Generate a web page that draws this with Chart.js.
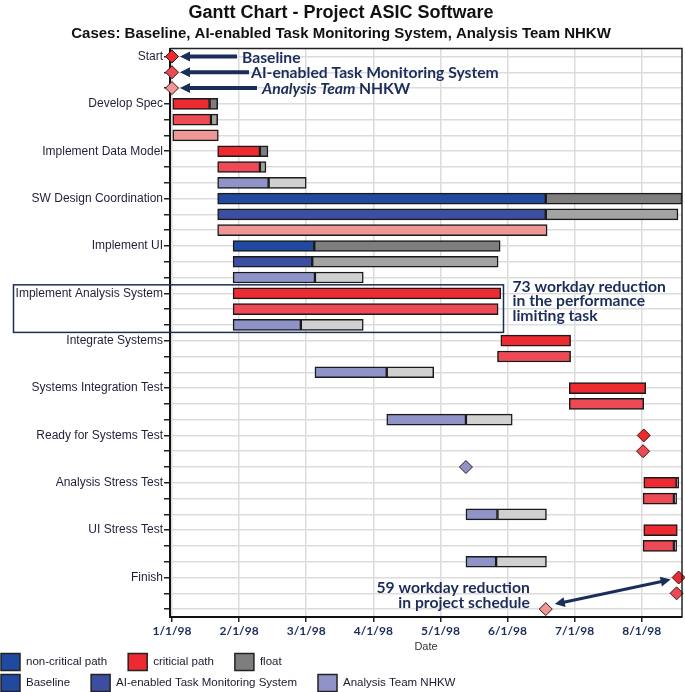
<!DOCTYPE html>
<html>
<head>
<meta charset="utf-8">
<title>Gantt Chart - Project ASIC Software</title>
<script src="https://cdn.jsdelivr.net/npm/chart.js@4.4.1/dist/chart.umd.min.js"></script>
<style>
  html, body { margin: 0; padding: 0; background: #fff; }
  #wrap { width: 685px; height: 692px; }
</style>
</head>
<body>
<div id="wrap"><canvas id="gantt" width="685" height="692"></canvas></div>
<script>
// tasks top to bottom, one row per case under each task
const tasks = ['Start', 'Develop Spec', 'Implement Data Model', 'SW Design Coordination',
    'Implement UI', 'Implement Analysis System', 'Integrate Systems', 'Systems Integration Test',
    'Ready for Systems Test', 'Analysis Stress Test', 'UI Stress Test', 'Finish'];
const cases = ['Baseline', 'AI-enabled Task Monitoring System', 'Analysis Team NHKW'];

// x = months after 1/1/98
const monthTicks = [0, 1, 2, 3, 4, 5, 6, 7];
const monthLabels = ['1/1/98', '2/1/98', '3/1/98', '4/1/98', '5/1/98', '6/1/98', '7/1/98', '8/1/98'];

// start == end -> milestone, floatEnd == end -> no float
const baselineStart    = [0, 0,    0.68, 0.68, 0.91, 0.91, 4.90, 5.92, 7.03, 7.03, 7.03, 7.55];
const baselineEnd      = [0, 0.56, 1.31, 5.57, 2.12, 4.90, 5.94, 7.06, 7.03, 7.52, 7.53, 7.55];
const baselineFloatEnd = [0, 0.68, 1.43, 7.60, 4.89, 4.90, 5.94, 7.06, 7.03, 7.55, 7.53, 7.55];
const baselineCritical = [1, 1, 1, 0, 0, 1, 1, 1, 1, 1, 1, 1];

const aiStart    = [0, 0,    0.68, 0.68, 0.91, 0.91, 4.85, 5.92, 7.02, 7.02, 7.02, 7.52];
const aiEnd      = [0, 0.58, 1.31, 5.57, 2.09, 4.86, 5.94, 7.03, 7.02, 7.48, 7.48, 7.52];
const aiFloatEnd = [0, 0.68, 1.40, 7.54, 4.86, 4.86, 5.94, 7.03, 7.02, 7.52, 7.52, 7.52];
const aiCritical = [1, 1, 1, 0, 0, 1, 1, 1, 1, 1, 1, 1];

const nhkwStart    = [0, 0,    0.68, 0.68, 0.91, 0.91, 2.13, 3.20, 4.38, 4.38, 4.38, 5.57];
const nhkwEnd      = [0, 0.69, 1.44, 5.59, 2.13, 1.92, 3.20, 4.38, 4.38, 4.85, 4.83, 5.57];
const nhkwFloatEnd = [0, 0.69, 2.00, 5.59, 2.85, 2.85, 3.90, 5.07, 4.38, 5.58, 5.58, 5.57];
const nhkwCritical = [1, 1, 0, 1, 0, 0, 0, 0, 0, 0, 0, 1];

const palette = {
    critical:    ['#EC2A2F', '#EE4A56', '#EF9797'],
    nonCritical: ['#2149A0', '#3C4E9F', '#8F93C8'],
    float:       ['#7E7E7E', '#A2A4A4', '#CFD0CF']
};
const NAVY = '#1B2D5B';
const NOTE_FONT = 'bold 15.7px Lato';

const caseData = [
    [baselineStart, baselineEnd, baselineFloatEnd, baselineCritical],
    [aiStart, aiEnd, aiFloatEnd, aiCritical],
    [nhkwStart, nhkwEnd, nhkwFloatEnd, nhkwCritical]
];

// one entry per row; null where a row has nothing of that kind
let rowLabels = [], mainBars = [], floatBars = [], miles = [], rowColors = [], floatColors = [];
tasks.forEach((task, ti) => {
    cases.forEach((c, ci) => {
        const [s, e, f, crit] = caseData[ci];
        rowLabels.push(ci == 0 ? task : '');
        rowColors.push(crit[ti] ? palette.critical[ci] : palette.nonCritical[ci]);
        floatColors.push(palette.float[ci]);
        const milestone = s[ti] == e[ti];
        mainBars.push(milestone ? null : [s[ti], e[ti]]);
        miles.push(milestone ? s[ti] : null);
        floatBars.push(f[ti] > e[ti] ? [e[ti], f[ti]] : null);
    });
});

function arrowHead(ctx, x, y, ang, len, half) {
    ctx.beginPath();
    ctx.moveTo(x, y);
    ctx.lineTo(x - len * Math.cos(ang) + half * Math.sin(ang), y - len * Math.sin(ang) - half * Math.cos(ang));
    ctx.lineTo(x - len * Math.cos(ang) - half * Math.sin(ang), y - len * Math.sin(ang) + half * Math.cos(ang));
    ctx.closePath();
    ctx.fill();
}

function arrow(ctx, x1, y1, x2, y2, both) {
    const ang = Math.atan2(y2 - y1, x2 - x1);
    ctx.beginPath();
    ctx.moveTo(x1 + (both ? 8 * Math.cos(ang) : 0), y1 + (both ? 8 * Math.sin(ang) : 0));
    ctx.lineTo(x2 - 8 * Math.cos(ang), y2 - 8 * Math.sin(ang));
    ctx.stroke();
    arrowHead(ctx, x2, y2, ang, 10, 5);
    if (both) arrowHead(ctx, x1, y1, ang + Math.PI, 10, 5);
}

const frame = {
    id: 'frame',
    afterDatasetsDraw(chart) {
        const { ctx, chartArea: a } = chart;
        ctx.save();
        ctx.strokeStyle = '#222';
        ctx.lineWidth = 1.5;
        ctx.beginPath();
        ctx.moveTo(a.left, a.top);
        ctx.lineTo(a.right, a.top);
        ctx.lineTo(a.right, a.bottom);
        ctx.stroke();
        ctx.restore();
    }
};

const notes = {
    id: 'notes',
    afterDraw(chart) {
        const { ctx, scales: { x, y } } = chart;
        ctx.save();
        ctx.fillStyle = NAVY;
        ctx.strokeStyle = NAVY;
        ctx.lineWidth = 4;
        ctx.textBaseline = 'middle';
        ctx.textAlign = 'left';

        // case names pointing at the Start milestones
        const tip = x.getPixelForValue(0) + 8;
        const tails = [237, 249, 257];
        tails.forEach((tx, i) => {
            const py = y.getPixelForValue(i);
            arrow(ctx, tx, py, tip, py, false);
        });
        ctx.font = NOTE_FONT;
        ctx.fillText(cases[0], 242, y.getPixelForValue(0) + 1);
        ctx.fillText(cases[1], 251, y.getPixelForValue(1) + 1);
        ctx.font = 'italic ' + NOTE_FONT;
        ctx.fillText('Analysis Team', 262, y.getPixelForValue(2) + 1);
        const w = ctx.measureText('Analysis Team ').width;
        ctx.font = NOTE_FONT;
        ctx.fillText('NHKW', 262 + w, y.getPixelForValue(2) + 1);

        // box round Implement Analysis System
        const boxR = x.getPixelForValue(4.91) + 2;
        const boxT = y.getPixelForValue(15) - 8.5, boxB = y.getPixelForValue(17) + 7.5;
        ctx.lineWidth = 1.5;
        ctx.strokeRect(13.5, boxT, boxR - 13.5, boxB - boxT);
        ['73 workday reduction', 'in the performance', 'limiting task'].forEach((t, i) => {
            ctx.fillText(t, boxR + 9, boxT + 2 + i * 14.5);
        });

        // schedule reduction at Finish
        const pinkX = x.getPixelForValue(nhkwEnd[11]), pinkY = y.getPixelForValue(35);
        const finX = x.getPixelForValue(baselineEnd[11]), finY = y.getPixelForValue(33);
        ctx.textAlign = 'right';
        ctx.fillText('59 workday reduction', pinkX - 16, finY + 10.5);
        ctx.fillText('in project schedule', pinkX - 16, finY + 25.5);
        ctx.lineWidth = 3;
        arrow(ctx, pinkX + 9, pinkY - 5, finX - 8, finY + 2, true);
        ctx.restore();
    }
};

const legendRows = [
    [['non-critical path', palette.nonCritical[0]], ['criticial path', palette.critical[0]], ['float', palette.float[0]]],
    [[cases[0], palette.nonCritical[0]], [cases[1], palette.nonCritical[1]], [cases[2], palette.nonCritical[2]]]
];

const boxLegend = {
    id: 'boxLegend',
    afterDraw(chart) {
        const { ctx } = chart;
        const top = chart.scales.x.bottom;
        ctx.save();
        ctx.font = '11.5px "Liberation Sans"';
        ctx.textBaseline = 'middle';
        ctx.textAlign = 'left';
        legendRows.forEach((items, r) => {
            const cy = top + 8 + r * 21;
            let cx = 1;
            for (const [text, col] of items) {
                ctx.fillStyle = col;
                ctx.strokeStyle = '#222';
                ctx.lineWidth = 1.5;
                ctx.fillRect(cx, cy - 8.5, 19, 17);
                ctx.strokeRect(cx, cy - 8.5, 19, 17);
                ctx.fillStyle = '#1a1a2e';
                ctx.fillText(text, cx + 25, cy);
                cx += 25 + ctx.measureText(text).width + 21;
            }
        });
        ctx.restore();
    }
};

new Chart(document.getElementById('gantt'), {
    type: 'bar',
    data: {
        labels: rowLabels,
        datasets: [
            {
                label: 'task', data: mainBars,
                backgroundColor: rowColors, borderColor: '#1a1a1a',
                borderWidth: 1.5, borderSkipped: false, barThickness: 11, grouped: false
            },
            {
                label: 'float', data: floatBars,
                backgroundColor: floatColors, borderColor: '#1a1a1a',
                borderWidth: 1.5, borderSkipped: false, barThickness: 11, grouped: false
            },
            {
                type: 'line', label: 'milestone', data: miles, showLine: false,
                pointStyle: 'rectRot', pointRadius: 6.5,
                pointBackgroundColor: rowColors, pointBorderColor: '#3a1515',
                pointBorderWidth: 1, clip: false
            }
        ]
    },
    options: {
        indexAxis: 'y',
        responsive: false,
        animation: false,
        layout: { autoPadding: false, padding: { left: 0, right: 3, top: 0, bottom: 38 } },
        plugins: {
            legend: { display: false },
            tooltip: { enabled: false },
            title: {
                display: true, text: 'Gantt Chart - Project ASIC Software', color: '#111',
                font: { family: 'Liberation Sans', size: 18, weight: 'bold' },
                padding: { top: 2, bottom: 0 }
            },
            subtitle: {
                display: true, text: 'Cases: ' + cases.join(', '), color: '#111',
                font: { family: 'Liberation Sans', size: 15, weight: 'bold' },
                padding: { top: 1, bottom: 6 }
            }
        },
        scales: {
            x: {
                type: 'linear', min: -0.03, max: 7.6,
                afterBuildTicks: scale => { scale.ticks = monthTicks.map(v => ({ value: v })); },
                afterFit: scale => { scale.height = 37; },
                grid: { color: '#DCDCDC', lineWidth: 1.5, tickColor: '#222', tickLength: 5, tickWidth: 1.5 },
                border: { color: '#111', width: 2 },
                ticks: {
                    padding: 2, color: NAVY, maxRotation: 0,
                    font: { family: 'Lato', size: 12, weight: 'bold' },
                    callback: v => monthLabels[monthTicks.indexOf(v)]
                },
                title: {
                    display: true, text: 'Date', color: '#333', padding: { top: 0, bottom: 0 },
                    font: { family: 'Liberation Sans', size: 11 }
                }
            },
            y: {
                type: 'category', offset: true, stacked: true,
                afterFit: scale => { scale.width = 170; },
                grid: { offset: false, color: '#DCDCDC', lineWidth: 1.5, tickColor: '#222', tickLength: 6, tickWidth: 1.5 },
                border: { color: '#111', width: 2 },
                ticks: {
                    autoSkip: false, padding: 1, color: '#1f1f3a',
                    font: { family: 'Liberation Sans', size: 12 }
                }
            }
        }
    },
    plugins: [frame, notes, boxLegend]
});
</script>
</body>
</html>
